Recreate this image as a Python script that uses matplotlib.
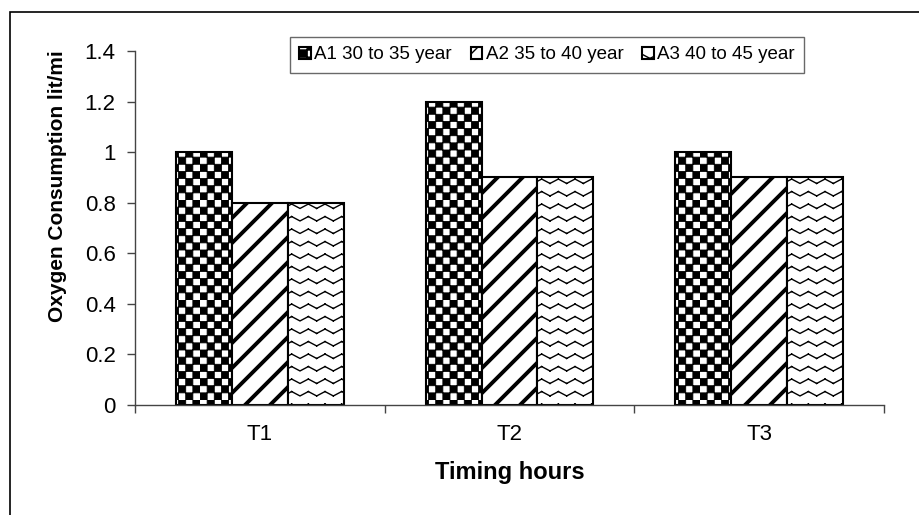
import warnings
import numpy as np
import matplotlib
matplotlib.use("Agg")
import matplotlib.pyplot as plt
import matplotlib.hatch as mhatch
from matplotlib.path import Path
from matplotlib.patches import Rectangle

warnings.filterwarnings("ignore")

# ---- data ----
categories = ["T1", "T2", "T3"]
series_names = ["A1 30 to 35 year", "A2 35 to 40 year", "A3 40 to 45 year"]
a1_values = [1.0, 1.2, 1.0]
a2_values = [0.8, 0.9, 0.9]
a3_values = [0.8, 0.9, 0.9]
y_ticks = [0, 0.2, 0.4, 0.6, 0.8, 1, 1.2, 1.4]
y_tick_labels = ["0", "0.2", "0.4", "0.6", "0.8", "1", "1.2", "1.4"]


# ---- custom hatch patterns ----
class WaveHatch(mhatch.HatchPatternBase):
    """'~' : thin zigzag waves (each segment its own sub-path)."""
    def __init__(self, hatch, density):
        self.rows = hatch.count('~') * 8
        self.periods = 6
        self.segs = 2 * self.periods
        self.num_vertices = self.rows * self.segs * 2

    def set_vertices_and_codes(self, vertices, codes):
        if self.rows == 0:
            return
        ys = (np.arange(self.rows) + 0.5) / self.rows
        xs = np.linspace(0, 1, self.segs + 1)
        amp = 0.022
        off = np.where(np.arange(self.segs + 1) % 2 == 0, -amp, amp)
        k = 0
        for y in ys:
            for j in range(self.segs):
                vertices[k] = (xs[j], y + off[j])
                codes[k] = Path.MOVETO
                vertices[k + 1] = (xs[j + 1], y + off[j + 1])
                codes[k + 1] = Path.LINETO
                k += 2


class CheckerHatch(mhatch.HatchPatternBase):
    """'c' : filled checkerboard squares."""
    def __init__(self, hatch, density):
        self.n = 14 if 'c' in hatch else 0
        self.num_vertices = (self.n * self.n // 2) * 5

    def set_vertices_and_codes(self, vertices, codes):
        if self.n == 0:
            return
        c = 1.0 / self.n
        k = 0
        for i in range(self.n):
            for j in range(self.n):
                if (i + j) % 2:
                    continue
                x0, y0 = i * c, j * c
                pts = [(x0, y0), (x0 + c, y0), (x0 + c, y0 + c), (x0, y0 + c), (x0, y0)]
                for m, p in enumerate(pts):
                    vertices[k] = p
                    codes[k] = Path.MOVETO if m == 0 else (Path.CLOSEPOLY if m == 4 else Path.LINETO)
                    k += 1


class StripeHatch(mhatch.HatchPatternBase):
    """'s' : diagonal stripes, 8 per hatch unit."""
    def __init__(self, hatch, density):
        self.num_lines = 8 if 's' in hatch else 0
        self.num_vertices = (self.num_lines + 1) * 2 if self.num_lines else 0

    def set_vertices_and_codes(self, vertices, codes):
        steps = np.linspace(-0.5, 0.5, self.num_lines + 1)
        vertices[0::2, 0] = 0.0 + steps
        vertices[0::2, 1] = 0.0 - steps
        vertices[1::2, 0] = 1.0 + steps
        vertices[1::2, 1] = 1.0 - steps
        codes[0::2] = Path.MOVETO
        codes[1::2] = Path.LINETO


for cls in (WaveHatch, CheckerHatch, StripeHatch):
    if cls not in mhatch._hatch_types:
        mhatch._hatch_types.append(cls)

plt.rcParams['font.family'] = ['Liberation Sans', 'DejaVu Sans']
plt.rcParams['hatch.linewidth'] = 1.0

fig = plt.figure(figsize=(9.2, 5.15), dpi=100)
# outer frame (cut off at right/bottom like the reference)
fig.patches.append(Rectangle((10 / 920, -0.1), 1.2, 1 - 12 / 515 + 0.1,
                             transform=fig.transFigure, fill=False,
                             edgecolor='black', linewidth=1.2))

ax = fig.add_axes([135 / 920, 1 - 405 / 515, (884 - 135) / 920, (405 - 51) / 515])

x = np.arange(len(categories))
w = 0.224
b1 = ax.bar(x - w, a1_values, w, facecolor='white', edgecolor='black',
            hatch='c', linewidth=1.5, label=series_names[0])
b2 = ax.bar(x, a2_values, w, facecolor='white', edgecolor='black',
            hatch='s', linewidth=1.5, label=series_names[1])
b3 = ax.bar(x + w, a3_values, w, facecolor='white', edgecolor='black',
            hatch='~', linewidth=1.5, label=series_names[2])
for bars, hlw in ((b1, 0.6), (b2, 2.8), (b3, 1.0)):
    for p in bars.patches:
        if hasattr(p, '_hatch_linewidth'):
            p._hatch_linewidth = hlw

ax.set_xlim(-0.5, 2.5)
ax.set_ylim(0, 1.4)
ax.set_yticks(y_ticks)
ax.set_yticklabels(y_tick_labels)
ax.set_xticks(x)
ax.set_xticklabels(categories)
ax.set_xticks(np.arange(-0.5, len(categories), 1.0), minor=True)
ax.tick_params(axis='x', which='major', length=0, pad=14, labelsize=16)
ax.tick_params(axis='x', which='minor', length=6, width=1, color='#444444', direction='out')
ax.tick_params(axis='y', length=6, width=1, color='#444444', direction='out', labelsize=16, pad=8)

for s in ['top', 'right']:
    ax.spines[s].set_visible(False)
for s in ['left', 'bottom']:
    ax.spines[s].set_color('#444444')
    ax.spines[s].set_linewidth(1)

ax.set_ylabel("Oxygen Consumption lit/mi", fontsize=15, fontweight='bold')
ax.yaxis.set_label_coords((67 - 135) / 749, (405 - 186) / 354)
ax.set_xlabel("Timing hours", fontsize=17, fontweight='bold', labelpad=11)

leg = ax.legend(loc='upper left', bbox_to_anchor=((290 - 135) / 749, (405 - 37) / 354),
                ncol=3, fontsize=13.5, frameon=True, fancybox=False,
                handlelength=0.6, handleheight=0.6, handletextpad=0.2,
                columnspacing=1.0, borderpad=0.5, borderaxespad=0)
leg.get_frame().set_edgecolor('#444444')
leg.get_frame().set_linewidth(1)

fig.savefig("out.png", dpi=100)
